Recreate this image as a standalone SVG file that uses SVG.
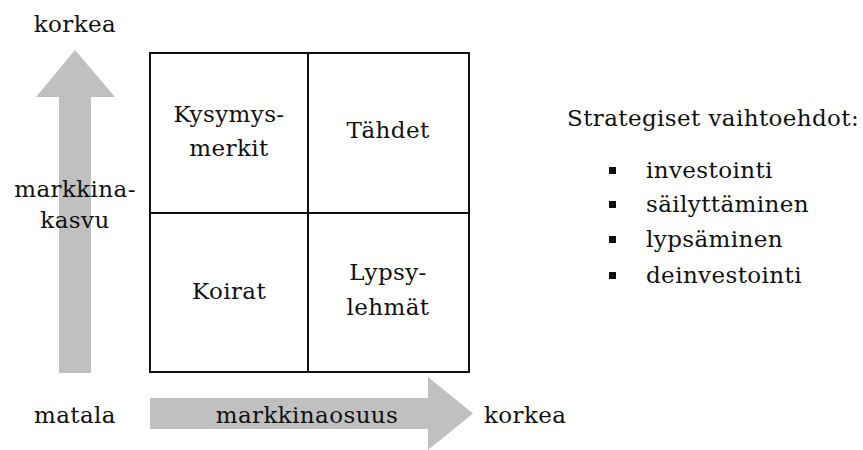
<svg xmlns="http://www.w3.org/2000/svg" width="863" height="450" viewBox="0 0 863 450">
<style>
text{font-family:"DejaVu Serif","Liberation Serif",serif;font-size:23px;letter-spacing:0.4px;fill:#111;}
.c{text-anchor:middle;}
.arrow{fill:#c0c0c0;}
.cell{fill:#fff;stroke:#111;stroke-width:2;}
</style>
<rect width="863" height="450" fill="#fff"/>
<g id="arrows">
<polygon class="arrow" points="59,373 59,97 36,97 75,50 115,97 91,97 91,373"/>
<polygon class="arrow" points="150,398 428,398 428,377 473,413.5 428,450 428,429 150,429"/>
</g>
<g id="matrix">
<g id="q-kysymysmerkit"><rect class="cell" x="150" y="53" width="158" height="160"/><text class="c" x="229" y="122">Kysymys-</text><text class="c" x="229" y="156">merkit</text></g>
<g id="q-tahdet"><rect class="cell" x="308" y="53" width="161" height="160"/><text class="c" x="388" y="138">Tähdet</text></g>
<g id="q-koirat"><rect class="cell" x="150" y="213" width="158" height="159"/><text class="c" x="229" y="299">Koirat</text></g>
<g id="q-lypsylehmat"><rect class="cell" x="308" y="213" width="161" height="159"/><text class="c" x="388" y="280">Lypsy-</text><text class="c" x="388" y="315">lehmät</text></g>
</g>
<g id="labels">
<text class="c" x="75" y="32">korkea</text>
<text class="c" x="75" y="197">markkina-</text>
<text class="c" x="75" y="228">kasvu</text>
<text class="c" x="75" y="423">matala</text>
<text class="c" x="307" y="423">markkinaosuus</text>
<text x="484" y="423">korkea</text>
</g>
<g id="strategies">
<text x="567" y="126">Strategiset vaihtoehdot:</text>
<rect x="609" y="167" width="7" height="7" fill="#111"/><text x="646" y="178">investointi</text>
<rect x="609" y="201" width="7" height="7" fill="#111"/><text x="646" y="212">säilyttäminen</text>
<rect x="609" y="236" width="7" height="7" fill="#111"/><text x="646" y="247">lypsäminen</text>
<rect x="609" y="272" width="7" height="7" fill="#111"/><text x="646" y="283">deinvestointi</text>
</g>
</svg>
